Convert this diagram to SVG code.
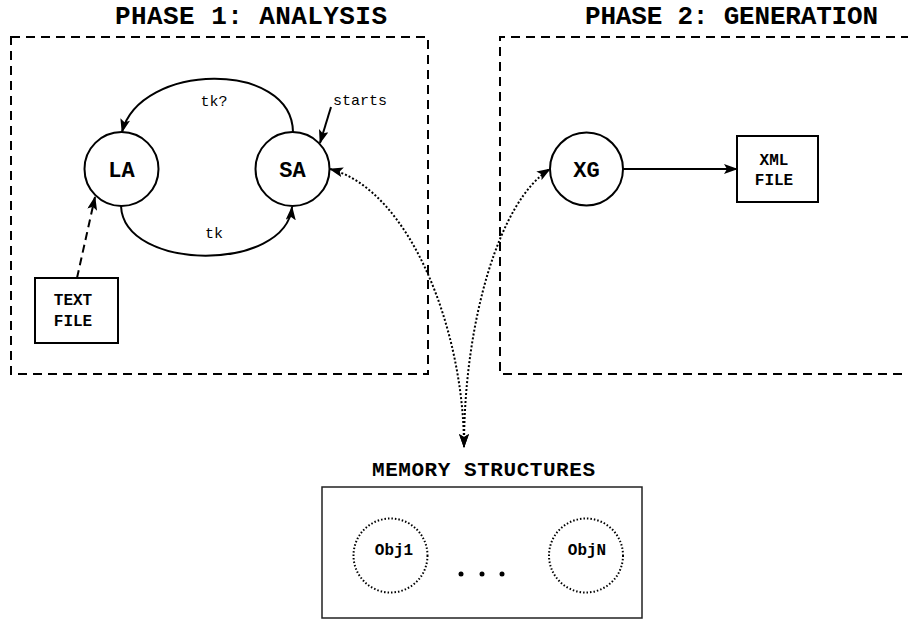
<svg xmlns="http://www.w3.org/2000/svg" width="908" height="621" viewBox="0 0 908 621">
  <style>
    .title { font-family: "Liberation Mono", "Courier New", monospace; font-weight: bold; font-size: 26px; fill: #000; }
    .mtitle { font-family: "Liberation Mono", "Courier New", monospace; font-weight: bold; font-size: 21px; fill: #000; }
    .node { fill: #fff; stroke: #000; stroke-width: 2; }
    .nlabel { font-family: "Liberation Mono", "Courier New", monospace; font-weight: bold; font-size: 22px; text-anchor: middle; fill: #000; }
    .flabel { font-family: "Liberation Mono", "Courier New", monospace; font-weight: bold; font-size: 16px; text-anchor: middle; fill: #000; }
    .elabel { font-family: "Liberation Mono", "Courier New", monospace; font-size: 15px; text-anchor: middle; fill: #000; }
    .phase { fill: none; stroke: #000; stroke-width: 2; stroke-dasharray: 9 6; }
    .edge { fill: none; stroke: #000; stroke-width: 2; }
    .dashed { stroke-dasharray: 8 5; }
    .dotted { stroke-dasharray: 2 2; }
    .obj { fill: none; stroke: #000; stroke-width: 2; stroke-dasharray: 1.5 2; }
  </style>
  <defs>
    <marker id="arrow" viewBox="0 0 14 10" refX="13" refY="5" markerWidth="14" markerHeight="10" markerUnits="userSpaceOnUse" orient="auto-start-reverse">
      <path d="M0,0 L14,5 L0,10 L3,5 z" fill="#000"/>
    </marker>
  </defs>

  <!-- phase frames -->
  <g id="phase1">
    <rect class="phase" x="11" y="37" width="417" height="337"/>
    <text class="title" x="115" y="24" textLength="272" lengthAdjust="spacing">PHASE 1: ANALYSIS</text>
  </g>
  <g id="phase2">
    <path class="phase" d="M910 37 H500 V374 H910"/>
    <text class="title" x="585" y="24" textLength="293" lengthAdjust="spacing">PHASE 2: GENERATION</text>
  </g>

  <!-- connectors -->
  <g id="connectors">
    <path class="edge" d="M293 132 C292 60, 140 62, 122 132" marker-end="url(#arrow)"/>
    <text class="elabel" x="214" y="106">tk?</text>
    <path class="edge" d="M121 206 C124 272, 286 272, 292 207" marker-end="url(#arrow)"/>
    <text class="elabel" x="214" y="238">tk</text>
    <line class="edge" x1="331" y1="107" x2="320" y2="143" marker-end="url(#arrow)"/>
    <text class="elabel" x="360" y="105">starts</text>
    <line class="edge dashed" x1="77" y1="278" x2="95" y2="197" marker-end="url(#arrow)"/>
    <line class="edge" x1="623" y1="169" x2="737" y2="169" marker-end="url(#arrow)"/>
    <path class="edge dotted" d="M464 447 C464 330, 410 190, 330 169" marker-start="url(#arrow)" marker-end="url(#arrow)"/>
    <path class="edge dotted" d="M464 447 C464 320, 500 200, 550 169" marker-start="url(#arrow)" marker-end="url(#arrow)"/>
  </g>

  <!-- nodes -->
  <g id="LA">
    <circle class="node" cx="121.5" cy="169" r="37"/>
    <text class="nlabel" x="121.5" y="177">LA</text>
  </g>
  <g id="SA">
    <circle class="node" cx="292.5" cy="169" r="37"/>
    <text class="nlabel" x="292.5" y="177">SA</text>
  </g>
  <g id="XG">
    <circle class="node" cx="586.5" cy="169" r="36.5"/>
    <text class="nlabel" x="586.5" y="177">XG</text>
  </g>
  <g id="xmlfile">
    <rect class="node" x="737" y="136" width="81" height="66"/>
    <text class="flabel" x="774" y="165">XML</text>
    <text class="flabel" x="774" y="185">FILE</text>
  </g>
  <g id="textfile">
    <rect class="node" x="35" y="278" width="83" height="65"/>
    <text class="flabel" x="73" y="305">TEXT</text>
    <text class="flabel" x="73" y="326">FILE</text>
  </g>

  <!-- memory structures -->
  <g id="memory">
    <text class="mtitle" x="372" y="476" textLength="223" lengthAdjust="spacing">MEMORY STRUCTURES</text>
    <rect x="322" y="487" width="320" height="131" fill="#fff" stroke="#222" stroke-width="1.5"/>
  </g>
  <g id="obj1">
    <circle class="obj" cx="390.5" cy="555.5" r="37"/>
    <text class="flabel" x="394" y="555">Obj1</text>
  </g>
  <g id="ellipsis">
    <circle cx="461" cy="574" r="2.5" fill="#000"/>
    <circle cx="482" cy="574" r="2.5" fill="#000"/>
    <circle cx="502" cy="574" r="2.5" fill="#000"/>
  </g>
  <g id="objN">
    <circle class="obj" cx="586" cy="555.5" r="37"/>
    <text class="flabel" x="587" y="555">ObjN</text>
  </g>
</svg>
